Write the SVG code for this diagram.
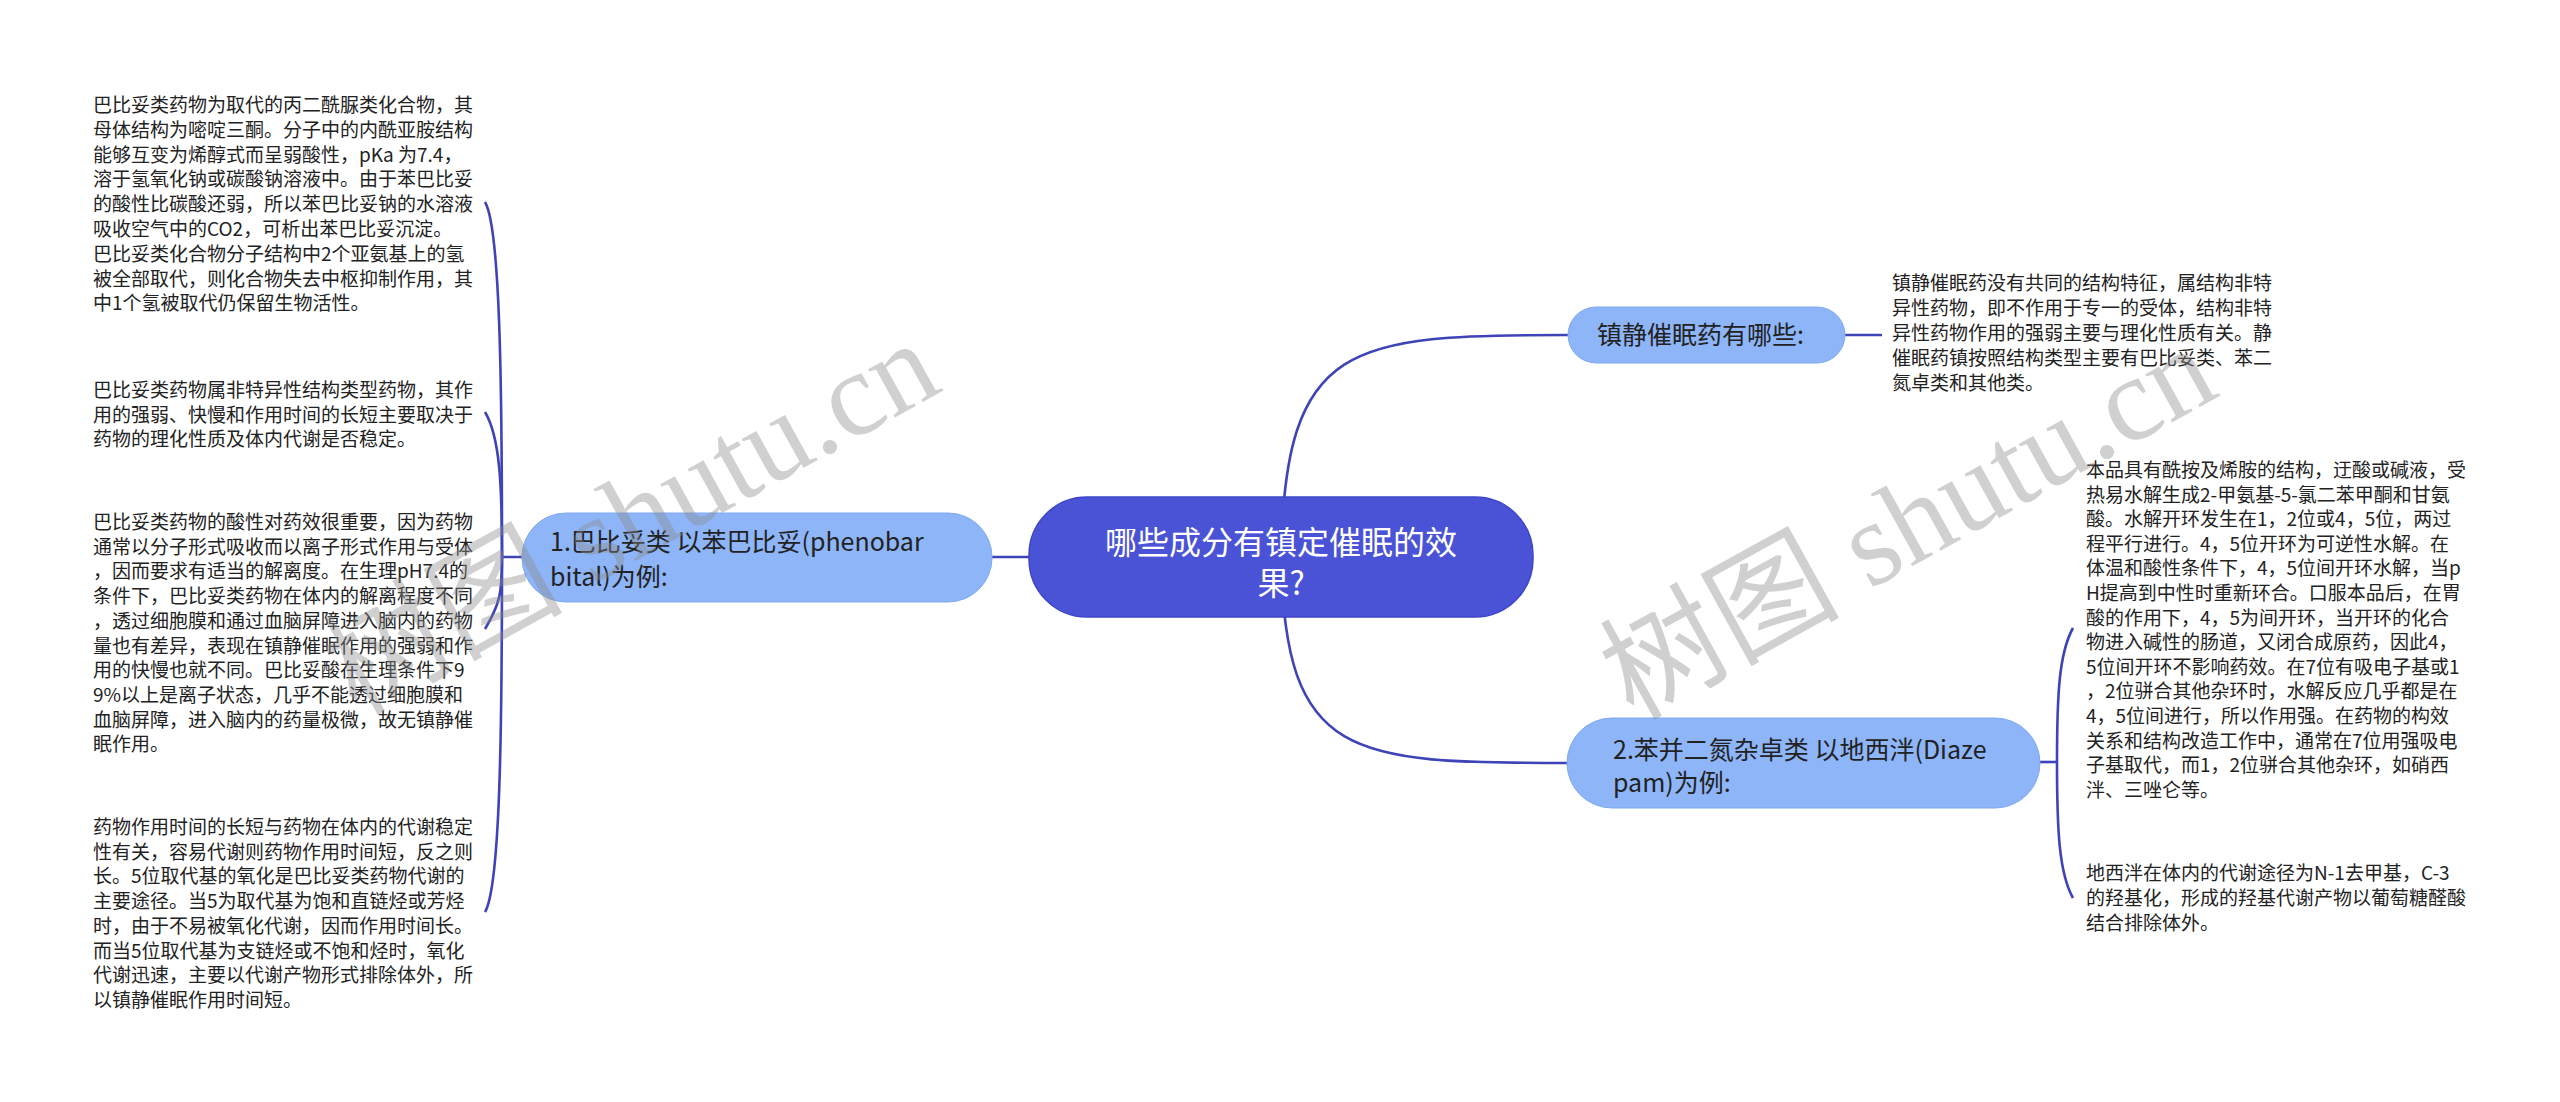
<svg xmlns="http://www.w3.org/2000/svg" width="2560" height="1102" viewBox="0 0 2560 1102">
<style>
.bg{fill:#ffffff}
.conn{fill:none;stroke:#3E44B8;stroke-width:2.6}
.root{fill:#4A52D6;stroke:#3E45C8;stroke-width:1.5}
.sub{fill:#8DB5F8;stroke:#7FA9F0;stroke-width:1}
.rt{font-family:"Noto Sans CJK SC","Noto Sans",sans-serif;font-size:32px;fill:#ffffff;text-anchor:middle}
.st{font-family:"Noto Sans CJK SC","Noto Sans",sans-serif;font-size:25px;fill:#222222}
.tx{font-family:"Noto Sans CJK SC","Noto Sans",sans-serif;font-size:19px;fill:#222222}
.wm{font-family:"Liberation Serif","Noto Sans CJK SC",serif;font-size:120px;fill:#8c8c8c;opacity:0.4}
</style>
<rect class="bg" x="0" y="0" width="2560" height="1102"/>
<g id="connectors">
<line class="conn" x1="502" y1="557" x2="1100" y2="557"/>
<path class="conn" d="M1281 557 C1285 340 1350 335 1568 335"/>
<path class="conn" d="M1281 557 C1285 760 1350 763 1568 763"/>
<line class="conn" x1="1845" y1="335" x2="1882" y2="335"/>
<line class="conn" x1="2030" y1="762" x2="2057" y2="762"/>
<path class="conn" d="M502 557 C502 380 500 227 485 202"/>
<path class="conn" d="M502 557 C502 485 500 437 485 412"/>
<path class="conn" d="M502 557 C502 593 500 604 485 629"/>
<path class="conn" d="M502 557 C502 735 500 887 485 912"/>
<path class="conn" d="M2057 762 C2057 695 2059 653 2073 628"/>
<path class="conn" d="M2057 762 C2057 830 2059 873 2073 898"/>
</g>
<g id="root">
<rect class="root" x="1029" y="497" width="504" height="120" rx="58"/>
<text class="rt" x="1281" y="554">哪些成分有镇定催眠的效</text>
<text class="rt" x="1281" y="595">果?</text>
</g>
<g id="n-barbital">
<rect class="sub" x="522" y="513" width="470" height="89" rx="44"/>
<text class="st" x="550" y="551">1.巴比妥类 以苯巴比妥(phenobar</text>
<text class="st" x="550" y="586">bital)为例:</text>
</g>
<g id="n-which">
<rect class="sub" x="1568" y="307" width="277" height="56" rx="28"/>
<text class="st" x="1597" y="344">镇静催眠药有哪些:</text>
</g>
<g id="n-diazepam">
<rect class="sub" x="1567" y="718" width="473" height="90" rx="45"/>
<text class="st" x="1613" y="759">2.苯并二氮杂卓类 以地西泮(Diaze</text>
<text class="st" x="1613" y="792">pam)为例:</text>
</g>
<g id="t-left1">
<text class="tx" x="93" y="112"><tspan x="93">巴比妥类药物为取代的丙二酰脲类化合物，其</tspan><tspan x="93" dy="24.8">母体结构为嘧啶三酮。分子中的内酰亚胺结构</tspan><tspan x="93" dy="24.8">能够互变为烯醇式而呈弱酸性，pKa 为7.4，</tspan><tspan x="93" dy="24.8">溶于氢氧化钠或碳酸钠溶液中。由于苯巴比妥</tspan><tspan x="93" dy="24.8">的酸性比碳酸还弱，所以苯巴比妥钠的水溶液</tspan><tspan x="93" dy="24.8">吸收空气中的CO2，可析出苯巴比妥沉淀。</tspan><tspan x="93" dy="24.8">巴比妥类化合物分子结构中2个亚氨基上的氢</tspan><tspan x="93" dy="24.8">被全部取代，则化合物失去中枢抑制作用，其</tspan><tspan x="93" dy="24.8">中1个氢被取代仍保留生物活性。</tspan></text>
</g>
<g id="t-left2">
<text class="tx" x="93" y="397"><tspan x="93">巴比妥类药物属非特异性结构类型药物，其作</tspan><tspan x="93" dy="24.7">用的强弱、快慢和作用时间的长短主要取决于</tspan><tspan x="93" dy="24.7">药物的理化性质及体内代谢是否稳定。</tspan></text>
</g>
<g id="t-left3">
<text class="tx" x="93" y="529"><tspan x="93">巴比妥类药物的酸性对药效很重要，因为药物</tspan><tspan x="93" dy="24.7">通常以分子形式吸收而以离子形式作用与受体</tspan><tspan x="93" dy="24.7">，因而要求有适当的解离度。在生理pH7.4的</tspan><tspan x="93" dy="24.7">条件下，巴比妥类药物在体内的解离程度不同</tspan><tspan x="93" dy="24.7">，透过细胞膜和通过血脑屏障进入脑内的药物</tspan><tspan x="93" dy="24.7">量也有差异，表现在镇静催眠作用的强弱和作</tspan><tspan x="93" dy="24.7">用的快慢也就不同。巴比妥酸在生理条件下9</tspan><tspan x="93" dy="24.7">9%以上是离子状态，几乎不能透过细胞膜和</tspan><tspan x="93" dy="24.7">血脑屏障，进入脑内的药量极微，故无镇静催</tspan><tspan x="93" dy="24.7">眠作用。</tspan></text>
</g>
<g id="t-left4">
<text class="tx" x="93" y="834"><tspan x="93">药物作用时间的长短与药物在体内的代谢稳定</tspan><tspan x="93" dy="24.7">性有关，容易代谢则药物作用时间短，反之则</tspan><tspan x="93" dy="24.7">长。5位取代基的氧化是巴比妥类药物代谢的</tspan><tspan x="93" dy="24.7">主要途径。当5为取代基为饱和直链烃或芳烃</tspan><tspan x="93" dy="24.7">时，由于不易被氧化代谢，因而作用时间长。</tspan><tspan x="93" dy="24.7">而当5位取代基为支链烃或不饱和烃时，氧化</tspan><tspan x="93" dy="24.7">代谢迅速，主要以代谢产物形式排除体外，所</tspan><tspan x="93" dy="24.7">以镇静催眠作用时间短。</tspan></text>
</g>
<g id="t-right1">
<text class="tx" x="1892" y="290"><tspan x="1892">镇静催眠药没有共同的结构特征，属结构非特</tspan><tspan x="1892" dy="25">异性药物，即不作用于专一的受体，结构非特</tspan><tspan x="1892" dy="25">异性药物作用的强弱主要与理化性质有关。静</tspan><tspan x="1892" dy="25">催眠药镇按照结构类型主要有巴比妥类、苯二</tspan><tspan x="1892" dy="25">氮卓类和其他类。</tspan></text>
</g>
<g id="t-right2">
<text class="tx" x="2086" y="477"><tspan x="2086">本品具有酰按及烯胺的结构，迂酸或碱液，受</tspan><tspan x="2086" dy="24.6">热易水解生成2-甲氨基-5-氯二苯甲酮和甘氨</tspan><tspan x="2086" dy="24.6">酸。水解开环发生在1，2位或4，5位，两过</tspan><tspan x="2086" dy="24.6">程平行进行。4，5位开环为可逆性水解。在</tspan><tspan x="2086" dy="24.6">体温和酸性条件下，4，5位间开环水解，当p</tspan><tspan x="2086" dy="24.6">H提高到中性时重新环合。口服本品后，在胃</tspan><tspan x="2086" dy="24.6">酸的作用下，4，5为间开环，当开环的化合</tspan><tspan x="2086" dy="24.6">物进入碱性的肠道，又闭合成原药，因此4，</tspan><tspan x="2086" dy="24.6">5位间开环不影响药效。在7位有吸电子基或1</tspan><tspan x="2086" dy="24.6">，2位骈合其他杂环时，水解反应几乎都是在</tspan><tspan x="2086" dy="24.6">4，5位间进行，所以作用强。在药物的构效</tspan><tspan x="2086" dy="24.6">关系和结构改造工作中，通常在7位用强吸电</tspan><tspan x="2086" dy="24.6">子基取代，而1，2位骈合其他杂环，如硝西</tspan><tspan x="2086" dy="24.6">泮、三唑仑等。</tspan></text>
</g>
<g id="t-right3">
<text class="tx" x="2086" y="880"><tspan x="2086">地西泮在体内的代谢途径为N-1去甲基，C-3</tspan><tspan x="2086" dy="25">的羟基化，形成的羟基代谢产物以葡萄糖醛酸</tspan><tspan x="2086" dy="25">结合排除体外。</tspan></text>
</g>
<g id="watermarks">
<text class="wm" x="356" y="716" transform="rotate(-29 356 716)">树图 shutu.cn</text>
<text class="wm" x="1633" y="721" transform="rotate(-29 1633 721)">树图 shutu.cn</text>
</g>
</svg>
